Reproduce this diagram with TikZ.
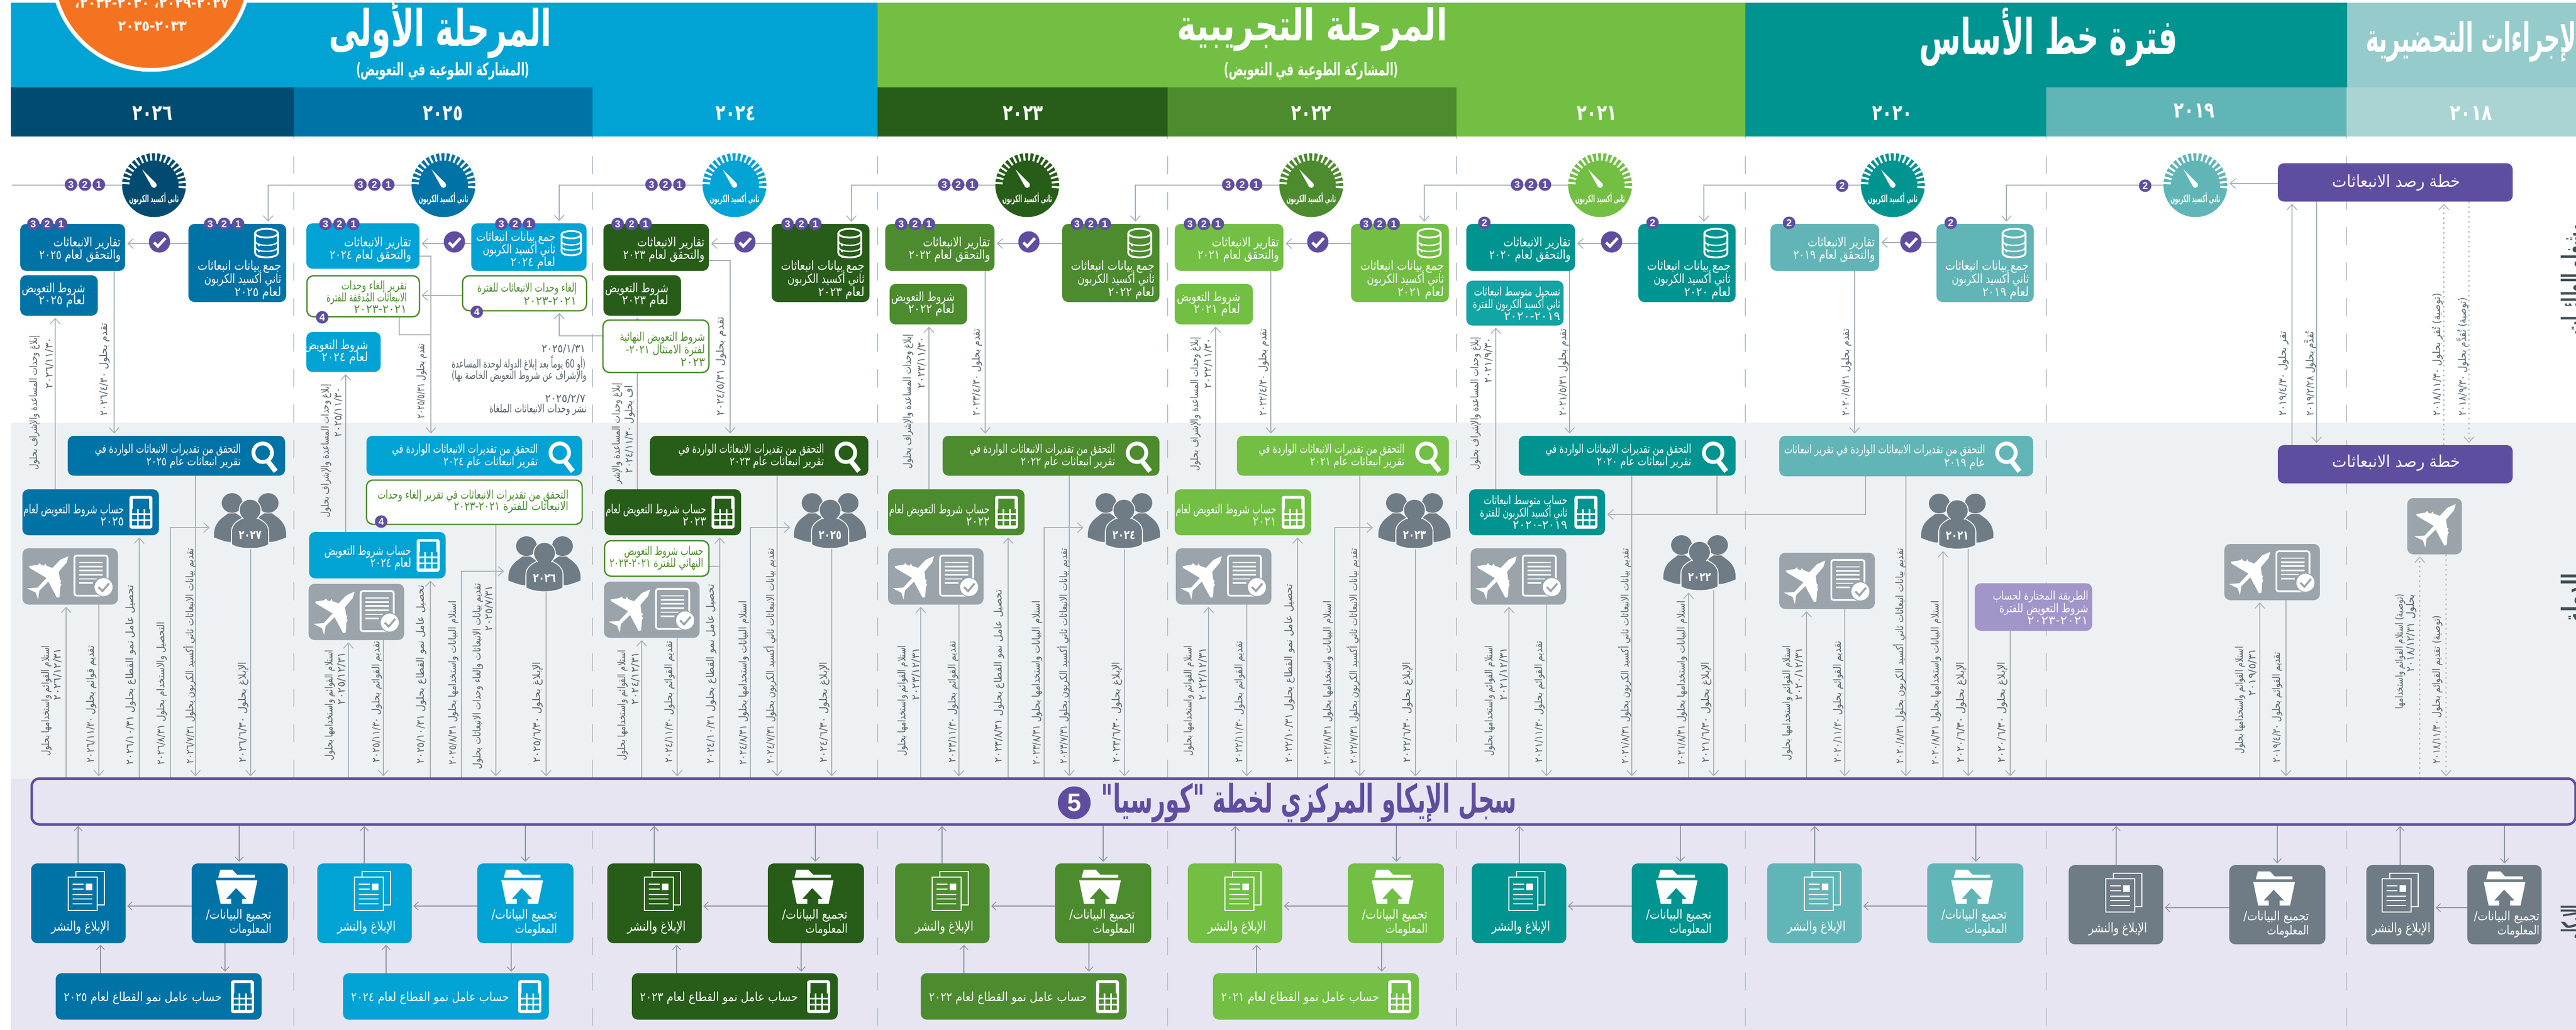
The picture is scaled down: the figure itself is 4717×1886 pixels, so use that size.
\documentclass[tikz,border=0pt]{standalone}
\usepackage{fontspec}
\usepackage{graphicx}
\usetikzlibrary{arrows.meta,calc}
\TeXXeTstate=1
\newfontfamily\arabicfont[Script=Arabic]{DejaVu Sans}
\newfontfamily\latfont{Liberation Sans}
\definecolor{cYa}{HTML}{004B6F}\definecolor{cYb}{HTML}{0073A6}\definecolor{cYc}{HTML}{00A3D3}
\definecolor{cYd}{HTML}{275D18}\definecolor{cYe}{HTML}{4D8B2F}\definecolor{cYf}{HTML}{72BF44}
\definecolor{cYg}{HTML}{009490}\definecolor{cYh}{HTML}{62B5B6}\definecolor{cYi}{HTML}{AAD4D3}
\definecolor{cPrep}{HTML}{96CBCB}\definecolor{cPur}{HTML}{5F4EA0}\definecolor{cLpur}{HTML}{A195C9}
\definecolor{cGray}{HTML}{6F7C85}\definecolor{cAir}{HTML}{9AA4AA}\definecolor{cBand}{HTML}{EEF1F3}
\definecolor{cLav}{HTML}{E7E5F2}\definecolor{cOr}{HTML}{F47321}\definecolor{cTeal}{HTML}{13A4A4}
\definecolor{cLine}{HTML}{A9B3BA}\definecolor{cLineB}{HTML}{8D969D}\definecolor{cLab}{HTML}{56626A}
\definecolor{cDash}{HTML}{BEC5CA}\definecolor{cHead}{HTML}{3F4F55}
\pgfdeclarelayer{basel}\pgfdeclarelayer{connl}\pgfsetlayers{basel,connl,main}
\newsavebox\arbox
\newcount\tnc
\newcommand\nextT{\global\advance\tnc by 1 }
\newcommand\Fl[2]{\sbox\arbox{\arabicfont #2}\resizebox{#1pt}{\ht\arbox}{\usebox\arbox}}
\newcommand\Fb[2]{\sbox\arbox{\arabicfont\bfseries #2}\resizebox{#1pt}{\ht\arbox}{\usebox\arbox}}
\tikzset{
 bx/.style={rectangle,rounded corners=11pt,inner sep=0pt,outer sep=0pt,draw=none},
 obx/.style={rectangle,rounded corners=12pt,inner sep=0pt,outer sep=0pt,draw=cYe,line width=2.5pt,fill=white},
 sq/.style={rectangle,inner sep=0pt,outer sep=0pt,draw=none},
 txt/.style={inner sep=0pt,outer sep=0pt,execute at begin node={\lineskiplimit=-1000pt}},
 conn/.style={draw=cLine,line width=2pt},
 connb/.style={draw=cLineB,line width=1.4pt},
 arr/.style={-{Straight Barb[length=10pt,width=18pt,line width=1.6pt]},shorten >=4pt},
 arrb/.style={-{Straight Barb[length=8pt,width=15pt,line width=1.4pt]},shorten >=3pt},
 dots/.style={dash pattern=on 3pt off 6pt},
 dashln/.style={draw=cDash,line width=1.4pt,dash pattern=on 33pt off 32pt},
 badge/.style={circle,fill=cPur,minimum size=23pt,inner sep=0pt,outer sep=0pt,text=white,font=\fontsize{18}{18}\selectfont\latfont\bfseries},
 chk/.style={circle,fill=cPur,minimum size=39pt,inner sep=0pt,outer sep=0pt}
}
% --- generic builders
\newcommand\mkBox[6]{\node[bx,fill=#6,minimum width={#4-#2},minimum height={#5-#3}] (#1) at ({(#2+#4)/2},{(#3+#5)/2}) {};}
\newcommand\mkSq[6]{\node[sq,fill=#6,minimum width={#4-#2},minimum height={#5-#3}] (#1) at ({(#2+#4)/2},{(#3+#5)/2}) {};}
\newcommand\mkOb[5]{\node[obx,minimum width={#4-#2},minimum height={#5-#3}] (#1) at ({(#2+#4)/2},{(#3+#5)/2}) {};}
\newcommand\tE[6]{\nextT\node[txt,anchor=east,align=right,text=#5,font=\fontsize{\fpeval{1.15*#3}}{#4}\selectfont] (t\the\tnc) at ({#1},{#2}) {#6};}
\newcommand\tC[6]{\nextT\node[txt,anchor=center,align=center,text=#5,font=\fontsize{#3}{#4}\selectfont] (t\the\tnc) at ({#1},{#2}) {#6};}
\newcommand\rL[4]{\nextT\node[txt,rotate=90,text=cLab,font=\fontsize{19}{19}\selectfont] (t\the\tnc) at (#1,{(#2+#3)/2}) {\Fl{\the\numexpr#3-#2\relax}{#4}};}
\newcommand\Bd[3]{\nextT\node[badge] (t\the\tnc) at (#1,#2) {#3};}
\newcommand\Bdt[2]{\Bd{#1}{#2}{3}\Bd{{#1+25.5}}{#2}{2}\Bd{{#1+51}}{#2}{1}}
\newcommand\Chk[2]{\nextT\node[chk] (t\the\tnc) at (#1,#2) {};\draw[white,line width=5pt] ($(t\the\tnc)+(-10,1)$) -- ++(7,7) -- ++(14,-15);}
% --- icons
\newcommand\dbIcon[3]{\begin{scope}[shift={({#1},{#2})},scale=#3]
 \draw[white,line width=3.3pt] (0,-18) ellipse[x radius=21,y radius=8];
 \draw[white,line width=3.3pt] (-21,-18) -- (-21,18) .. controls (-21,29) and (21,29) .. (21,18) -- (21,-18);
 \draw[white,line width=2.4pt] (-21,-4) .. controls (-21,7) and (21,7) .. (21,-4);
 \draw[white,line width=2.4pt] (-21,7) .. controls (-21,18) and (21,18) .. (21,7);
 \fill[white] (-14,4) circle[radius=2] (-14,15) circle[radius=2] (-14,26) circle[radius=1.5];
\end{scope}}
\newcommand\calIcon[3]{\begin{scope}[shift={({#1},{#2})}]
 \fill[white,rounded corners=4pt] (-21,-30) rectangle (21,30);
 \fill[#3] (-15,-25) rectangle (15,-6);
 \foreach \cy in {-2,9,20}{\foreach \cx in {-12,0,12}{\fill[#3] ({\cx-4.5},{\cy-4}) rectangle ({\cx+4.5},{\cy+4});}}
\end{scope}}
\newcommand\magIcon[2]{\begin{scope}[shift={({#1},{#2})}]
 \draw[white,line width=7pt] (0,-6) circle[radius=17];
 \draw[white,line width=9pt] (9,9) -- (24,28);
\end{scope}}
\newcommand\planePath{(285,55)--(240,75)--(197,120)--(163,107)--(158,95)--(150,108)--(135,103)--(128,93)--(118,102)--(68,110)--(72,120)--(165,175)--(115,228)--(58,232)--(105,255)--(118,293)--(125,245)--(175,195)--(222,283)--(236,280)--(240,225)--(247,210)--(240,205)--(245,188)--(238,185)--(232,140)--(275,90)--cycle}
\newcommand\planeAt[2]{\begin{scope}[shift={({#1},{#2})},scale=.3333,shift={(-175,-175)}]\fill[white] \planePath;\end{scope}}
\newcommand\airDoc[2]{\begin{scope}[shift={({#1},{#2})},scale=.3333,shift={(-32,-12)}]
 \fill[white] \planePath;
 \draw[white,line width=3.2pt,rounded corners=4pt] (318,52) rectangle (500,272);
 \foreach \ly in {90,112,133,157}{\draw[white,line width=2.6pt] (345,\ly) -- (472,\ly);}
 \draw[white,line width=2.6pt] (345,180) -- (440,180);
 \draw[white,line width=2.6pt] (345,203) -- (420,203);
 \fill[white,draw=cAir,line width=1.5pt] (478,225) circle[radius=52];
 \draw[cAir,line width=3.6pt] (450,225) -- (472,247) -- (508,205);
\end{scope}}
\newcommand\AirBox[3]{\mkBox{#1}{#2}{#3}{#2+175}{#3+103}{cAir}\airDoc{#2}{#3}}
\newcommand\Gauge[3]{\node[circle,fill=#3,minimum size=117pt,inner sep=0pt,outer sep=0pt] (#1) at (#2,339) {};
 \begin{scope}[shift={(#2,339)}]
 \foreach \ga in {-4,6,...,184}{\draw[white,line width=3.6pt] ({45*cos(\ga)},{-45*sin(\ga)}) -- ({61*cos(\ga)},{-61*sin(\ga)});}
 \fill[white] (-21.7,-28.7) -- (4,-3) -- (-4,3) -- cycle (0,0) circle[radius=5];
 \end{scope}
 \nextT\node[txt,text=white,font=\fontsize{18}{18}\selectfont] (t\the\tnc) at (#2,364) {\Fb{91}{\beginR ثاني أكسيد الكربون\endR}};}
\newcommand\Grp[4]{\node[sq,minimum width=132pt,minimum height=100pt] (#1) at (#2,#3) {};
 \begin{scope}[shift={(#2,#3)}]
 \foreach \gs in {-1,1}{
  \fill[cGray] ({\gs*33},-33) ellipse[x radius=19,y radius=18];
  \fill[cGray] ({\gs*66},30) .. controls ({\gs*68},2) and ({\gs*50},-6) .. ({\gs*40},-14) -- ({\gs*26},-14) .. controls ({\gs*14},-6) .. ({\gs*8},5) -- ({\gs*8},36) .. controls ({\gs*40},40) .. ({\gs*66},30) -- cycle;}
 \fill[cGray,draw=white,line width=1.6pt] (-34,43) -- (-34,20) .. controls (-34,2) and (-18,-2) .. (-10,-8) -- (10,-8) .. controls (18,-2) and (34,2) .. (34,20) -- (34,43) .. controls (20,53) and (-20,53) .. (-34,43) -- cycle;
 \fill[cGray,draw=white,line width=1.6pt] (0,-20) ellipse[x radius=20,y radius=20];
 \fill[cGray] (-12,-8) rectangle (12,4);
 \end{scope}
 \tC{#2}{#3+26}{23}{23}{white}{\Fb{42}{\beginR #4\endR}}}
% --- standard boxes
\newcommand\DataT[5]{\mkBox{#1}{#2}{410}{#3}{553}{#4}\dbIcon{#3-36}{445}{1}
 \tE{#3-9}{513}{20}{24}{white}{\Fl{153}{\beginR جمع بيانات انبعاثات\endR}\\\Fl{141}{\beginR ثاني أكسيد الكربون\endR}\\\Fl{85}{\beginR لعام #5\endR}}}
\newcommand\RepT[5]{\mkBox{#1}{#2}{410}{#3}{496}{#4}
 \tE{#3-8}{457}{20}{23}{white}{\Fl{123}{\beginR تقارير الانبعاثات\endR}\\\Fl{149}{\beginR والتحقق لعام #5\endR}}}
\newcommand\OffT[7]{\mkBox{#1}{#2}{#4}{#3}{#5}{#6}
 \tE{#3-23}{(#4+#5)/2}{20}{22}{white}{\Fl{116}{\beginR شروط التعويض\endR}\\\Fl{85}{\beginR لعام #7\endR}}}
\newcommand\VerT[5]{\mkBox{#1}{#2}{798}{#3}{871}{#4}\magIcon{#3-41}{835}
 \tE{#3-81}{835}{19}{23}{white}{\Fl{267}{\beginR التحقق من تقديرات الانبعاثات الواردة في\endR}\\\Fl{173}{\beginR تقرير انبعاثات عام #5\endR}}}
\newcommand\CalT[5]{\mkBox{#1}{#2}{896}{#3}{980}{#4}\calIcon{#3-33}{938}{#4}
 \tE{#3-64}{943}{20}{22}{white}{\Fl{184}{\beginR حساب شروط التعويض لعام\endR}\\\Fl{43}{\beginR #5\endR}}}
% --- bottom row
\newcommand\RepB[8]{% name x1 x2 y1 y2 col iconcx textcx
 \mkBox{#1}{#2}{#4}{#3}{#5}{#6}
 \begin{scope}[shift={({#7},#4)},scale=.3333]
  \draw[white,line width=2pt] (-56,45) rectangle (99,228);
  \fill[#6,draw=white,line width=2pt] (-98,75) rectangle (59,258);
  \foreach \ly in {115,140}{\draw[white,line width=2pt] (-76,\ly) -- (-16,\ly);}
  \fill[white] (-4,110) rectangle (34,148);
  \foreach \ly in {170,195,222}{\draw[white,line width=2pt] (-76,\ly) -- (34,\ly);}
 \end{scope}
 \tC{#8}{#4+117}{24}{24}{white}{\Fl{107}{\beginR الإبلاغ والنشر\endR}}}
\newcommand\DatB[8]{% name x1 x2 y1 y2 col iconcx textright
 \mkBox{#1}{#2}{#4}{#3}{#5}{#6}
 \begin{scope}[shift={({#7},#4)},scale=.3333]
  \fill[white] (-89,35) -- (-22,35) -- (3,62) -- (101,62) -- (101,78) -- (-100,78) -- cycle;
  \fill[white] (-114,93) -- (115,93) -- (88,222) -- (31,222) -- (31,195) -- (56,195) -- (-2,135) -- (-57,195) -- (-29,195) -- (-29,222) -- (-87,222) -- cycle;
 \end{scope}
 \tE{#8}{#4+109}{20}{26}{white}{\Fl{120}{\beginR تجميع البيانات/\endR}\\\Fl{77}{\beginR المعلومات\endR}}}
\newcommand\CalB[5]{\mkBox{#1}{#2}{1782}{#2+377}{1867}{#3}\calIcon{#2+342}{1825}{#3}
 \tE{#2+304}{1828}{20}{20}{white}{\Fl{289}{\beginR حساب عامل نمو القطاع لعام #4\endR}}}
% --- connectors
\newcommand\vA[3]{\begin{pgfonlayer}{connl}\draw[conn,arr] (#1,0 |- #2) -- (#1,0 |- #3);\end{pgfonlayer}}
\newcommand\vD[3]{\begin{pgfonlayer}{connl}\draw[conn,arr,dots,line width=1.5pt] (#1,0 |- #2) -- (#1,0 |- #3);\end{pgfonlayer}}
\newcommand\vBb[3]{\begin{pgfonlayer}{connl}\draw[connb,arrb] (#1,0 |- #2) -- (#1,0 |- #3);\end{pgfonlayer}}
\newcommand\hB[3]{\begin{pgfonlayer}{connl}\draw[connb,arrb,line width=2.4pt] (#2 |- 0,#1) -- (#3 |- 0,#1);\end{pgfonlayer}}
\newcommand\hA[3]{\begin{pgfonlayer}{connl}\draw[conn,arr] (#2 |- 0,#1) -- (#3 |- 0,#1);\end{pgfonlayer}}
\newcommand\eA[4]{\nextT\coordinate (e\the\tnc) at (#3,#4);\begin{pgfonlayer}{connl}\draw[conn,arr] (#1,0 |- #2) |- (e\the\tnc);\end{pgfonlayer}}
\newcommand\gA[3]{\begin{pgfonlayer}{connl}\draw[conn,arr] (#1.west) -| (#2,0 |- #3.north);\end{pgfonlayer}}
\begin{document}
\begin{tikzpicture}[x=1pt,y=-1pt]
\useasboundingbox (0,0) rectangle (4717,1886);
\begin{pgfonlayer}{basel}
\fill[white] (0,0) rectangle (4717,1886);
\fill[cBand] (20,774) rectangle (4717,1426);
\fill[cLav] (20,1426) rectangle (4717,1886);
\foreach \dx in {538,1085,1607,2138,2667,3196,3747,4297}{\draw[dashln] (\dx,221) -- (\dx,1883);}
\mkSq{phB}{20}{5}{1607}{160}{cYc}
\mkSq{phP}{1607}{5}{3196}{160}{cYf}
\mkSq{phL}{3196}{5}{4298}{160}{cYg}
\mkSq{phE}{4298}{5}{4717}{160}{cPrep}
\mkSq{ya}{20}{160}{538}{250}{cYa}
\mkSq{yb}{538}{160}{1085}{250}{cYb}
\mkSq{yc}{1085}{160}{1607}{250}{cYc}
\mkSq{yd}{1607}{160}{2138}{250}{cYd}
\mkSq{ye}{2138}{160}{2667}{250}{cYe}
\mkSq{yf}{2667}{160}{3196}{250}{cYf}
\mkSq{yg}{3196}{160}{3747}{250}{cYg}
\mkSq{yh}{3747}{160}{4297}{250}{cYh}
\mkSq{yi}{4297}{160}{4717}{250}{cYi}
\node[circle,fill=cOr,draw=white,line width=7pt,minimum size=362pt,inner sep=0pt] (orange) at (277,-53) {};
\end{pgfonlayer}
% header text
\tC{278}{6}{26}{26}{white}{\Fb{282}{\beginR ٢٠٢٧-٢٠٢٩، ٢٠٣٠-٢٠٣٢،\endR}}
\tC{279}{48}{26}{26}{white}{\Fb{126}{\beginR ٢٠٣٣-٢٠٣٥\endR}}
\tC{806}{52}{92}{92}{white}{\Fb{408}{\beginR المرحلة الأولى\endR}}
\tC{811}{130}{32}{32}{white}{\Fb{318}{\beginR (المشاركة الطوعية في التعويض)\endR}}
\tC{2403}{54}{80}{80}{white}{\Fb{495}{\beginR المرحلة التجريبية\endR}}
\tC{2401}{130}{32}{32}{white}{\Fb{320}{\beginR (المشاركة الطوعية في التعويض)\endR}}
\tC{3751}{68}{90}{90}{white}{\Fb{474}{\beginR فترة خط الأساس\endR}}
\tC{4532}{76}{74}{74}{white}{\Fb{400}{\beginR الإجراءات التحضيرية\endR}}
\tC{279}{208}{40}{40}{white}{\Fb{74}{\beginR ٢٠٢٦\endR}}
\tC{811}{208}{40}{40}{white}{\Fb{74}{\beginR ٢٠٢٥\endR}}
\tC{1347}{208}{40}{40}{white}{\Fb{74}{\beginR ٢٠٢٤\endR}}
\tC{1873}{208}{40}{40}{white}{\Fb{74}{\beginR ٢٠٢٣\endR}}
\tC{2401}{208}{40}{40}{white}{\Fb{74}{\beginR ٢٠٢٢\endR}}
\tC{2924}{208}{40}{40}{white}{\Fb{74}{\beginR ٢٠٢١\endR}}
\tC{3465}{208}{40}{40}{white}{\Fb{74}{\beginR ٢٠٢٠\endR}}
\tC{4018}{203}{40}{40}{white}{\Fb{75}{\beginR ٢٠١٩\endR}}
\tC{4525}{208}{40}{40}{white}{\Fb{77}{\beginR ٢٠١٨\endR}}
% side labels
\nextT\node[txt,rotate=90,anchor=center,text=cHead,font=\fontsize{58}{58}\selectfont] (t\the\tnc) at (4718,511) {\Fb{205}{\beginR مشغلو الطائرات\endR}};
\nextT\node[txt,rotate=90,anchor=center,text=cHead,font=\fontsize{58}{58}\selectfont] (t\the\tnc) at (4718,1095) {\Fb{91}{\beginR الدولة\endR}};
\nextT\node[txt,rotate=90,anchor=center,text=cHead,font=\fontsize{58}{58}\selectfont] (t\the\tnc) at (4718,1689) {\Fb{64}{\beginR الإيكاو\endR}};
% registry
\node[rectangle,rounded corners=14pt,draw=cPur,line width=4.5pt,fill=cLav,minimum width=4658pt,minimum height=84pt,inner sep=0pt,outer sep=0pt] (reg) at (2387,1467.5) {};
\tC{2397}{1470}{72}{72}{cPur}{\Fb{761}{\beginR سجل الإيكاو المركزي لخطة "كورسيا"\endR}}
\nextT\node[circle,fill=cPur,minimum size=60pt,inner sep=0pt,text=white,font=\fontsize{46}{46}\selectfont\latfont\bfseries] (t\the\tnc) at (1967,1470) {5};
% gauges
\Gauge{ga}{282}{cYa}\Gauge{gb}{812}{cYb}\Gauge{gc}{1345}{cYc}\Gauge{gd}{1881}{cYd}
\Gauge{ge}{2401}{cYe}\Gauge{gf}{2930}{cYf}\Gauge{gg}{3466}{cYg}\Gauge{gh}{4020}{cYh}
%==== column 2026
\DataT{da}{345}{524}{cYb}{٢٠٢٥}
\RepT{ra}{37}{229}{cYb}{٢٠٢٥}
\OffT{oa}{37}{179}{504}{578}{cYb}{٢٠٢٥}
\VerT{va}{124}{522}{cYb}{٢٠٢٥}
\CalT{ca}{41}{291}{cYb}{٢٠٢٥}
\AirBox{aa}{41}{1004}
\Grp{pa}{458}{954}{٢٠٢٧}
%==== column 2025
\mkBox{db}{863}{409}{1074}{496}{cYc}\dbIcon{1046}{445}{.85}
\tE{1017}{459}{20}{23}{white}{\Fl{145}{\beginR جمع بيانات انبعاثات\endR}\\\Fl{133}{\beginR ثاني أكسيد الكربون\endR}\\\Fl{82}{\beginR لعام ٢٠٢٤\endR}}
\mkBox{rb}{561}{409}{768}{492}{cYc}
\tE{753}{457}{20}{23}{white}{\Fl{123}{\beginR تقارير الانبعاثات\endR}\\\Fl{149}{\beginR والتحقق لعام ٢٠٢٤\endR}}
\mkOb{xb}{847}{505}{1074}{569}
\tE{1056}{538}{19}{24}{cYe}{\Fl{182}{\beginR إلغاء وحدات الانبعاثات للفترة\endR}\\\Fl{97}{\beginR ٢٠٢١-٢٠٢٣\endR}}
\mkOb{yb1}{562}{505}{768}{580}
\tE{745}{544}{19}{21.5}{cYe}{\Fl{120}{\beginR تقرير إلغاء وحدات\endR}\\\Fl{147}{\beginR الانبعاثات المُدققة للفترة\endR}\\\Fl{97}{\beginR ٢٠٢١-٢٠٢٣\endR}}
\OffT{ob}{561}{697}{608}{681}{cYc}{٢٠٢٤}
\tE{1072}{639}{18}{18}{cLab}{\Fl{80}{\beginR ٢٠٢٥/١/٣١\endR}}
\tE{1072}{665}{18}{18}{cLab}{\Fl{245}{\beginR (أو 60 يوماً بعد إبلاغ الدولة لوحدة المساعدة\endR}}
\tE{1074}{689}{18}{18}{cLab}{\Fl{247}{\beginR والإشراف عن شروط التعويض الخاصة بها)\endR}}
\tE{1072}{730}{18}{18}{cLab}{\Fl{74}{\beginR ٢٠٢٥/٢/٧\endR}}
\tE{1074}{750}{18}{18}{cLab}{\Fl{178}{\beginR نشر وحدات الانبعاثات الملغاة\endR}}
\VerT{vb}{671}{1066}{cYc}{٢٠٢٤}
\mkOb{zb}{671}{879}{1066}{960}
\tE{1041}{918}{19}{21}{cYe}{\Fl{350}{\beginR التحقق من تقديرات الانبعاثات في تقرير إلغاء وحدات\endR}\\\Fl{210}{\beginR الانبعاثات للفترة ٢٠٢١-٢٠٢٣\endR}}
\mkBox{cb}{566}{974}{816}{1059}{cYc}\calIcon{784}{1017}{cYc}
\tE{753}{1022}{20}{22}{white}{\Fl{159}{\beginR حساب شروط التعويض\endR}\\\Fl{75}{\beginR لعام ٢٠٢٤\endR}}
\AirBox{ab}{565}{1069}
\Grp{pb}{997}{1033}{٢٠٢٦}
%==== column 2024
\DataT{dc}{1413}{1592}{cYd}{٢٠٢٣}
\RepT{rc}{1105}{1298}{cYd}{٢٠٢٣}
\OffT{oc}{1105}{1247}{504}{578}{cYd}{٢٠٢٣}
\mkOb{fc}{1104}{586}{1298}{682}
\tE{1291}{639}{19}{23}{cYe}{\Fl{156}{\beginR شروط التعويض النهائية\endR}\\\Fl{145}{\beginR لفترة الامتثال ٢٠٢١-\endR}\\\Fl{45}{\beginR ٢٠٢٣\endR}}
\VerT{vc}{1190}{1590}{cYd}{٢٠٢٣}
\CalT{cc}{1107}{1357}{cYd}{٢٠٢٣}
\mkOb{wc}{1107}{990}{1298}{1055}
\tE{1288}{1022}{19}{22}{cYe}{\Fl{145}{\beginR حساب شروط التعويض\endR}\\\Fl{172}{\beginR النهائي للفترة ٢٠٢١-٢٠٢٣\endR}}
\AirBox{ac}{1106}{1065}
\Grp{pc}{1520}{954}{٢٠٢٥}
%==== column 2023
\DataT{dd}{1945}{2123}{cYe}{٢٠٢٢}
\RepT{rd}{1621}{1821}{cYe}{٢٠٢٢}
\OffT{od}{1629}{1771}{520}{594}{cYe}{٢٠٢٢}
\VerT{vd}{1726}{2123}{cYe}{٢٠٢٢}
\CalT{cd}{1626}{1876}{cYe}{٢٠٢٢}
\AirBox{ad}{1626}{1004}
\Grp{pd}{2058}{954}{٢٠٢٤}
%==== column 2022
\DataT{de}{2474}{2653}{cYf}{٢٠٢١}
\RepT{re}{2151}{2350}{cYf}{٢٠٢١}
\OffT{oe}{2151}{2294}{520}{594}{cYf}{٢٠٢١}
\VerT{ve}{2265}{2653}{cYf}{٢٠٢١}
\CalT{ce}{2151}{2401}{cYf}{٢٠٢١}
\AirBox{ae}{2153}{1004}
\Grp{pe}{2590}{954}{٢٠٢٣}
%==== column 2021
\DataT{df}{3000}{3178}{cYg}{٢٠٢٠}
\RepT{rf}{2685}{2884}{cYg}{٢٠٢٠}
\mkBox{bf}{2685}{514}{2863}{596}{cTeal}
\tE{2857}{556}{19}{22.5}{white}{\Fl{158}{\beginR تسجيل متوسط انبعاثات\endR}\\\Fl{160}{\beginR ثاني أكسيد الكربون للفترة\endR}\\\Fl{103}{\beginR ٢٠١٩-٢٠٢٠\endR}}
\VerT{vf}{2781}{3178}{cYg}{٢٠٢٠}
\mkBox{cf}{2690}{896}{2939}{980}{cYg}\calIcon{2904}{938}{cYg}
\tE{2870}{938}{19}{22.5}{white}{\Fl{153}{\beginR حساب متوسط انبعاثات\endR}\\\Fl{160}{\beginR ثاني أكسيد الكربون للفترة\endR}\\\Fl{100}{\beginR ٢٠١٩-٢٠٢٠\endR}}
\AirBox{af}{2693}{1004}
\Grp{pf}{3112}{1031}{٢٠٢٢}
%==== column 2020
\DataT{dg}{3546}{3724}{cYh}{٢٠١٩}
\RepT{rg}{3242}{3441}{cYh}{٢٠١٩}
\mkBox{vg}{3258}{798}{3723}{872}{cYh}\magIcon{3674}{835}
\tE{3635}{837}{19}{24}{white}{\Fl{368}{\beginR التحقق من تقديرات الانبعاثات الواردة في تقرير انبعاثات\endR}\\\Fl{75}{\beginR عام ٢٠١٩\endR}}
\AirBox{ag}{3258}{1012}
\Grp{pg}{3584}{955}{٢٠٢١}
\mkBox{mg}{3616}{1068}{3831}{1155}{cLpur}
\tE{3824}{1113}{19}{22.5}{white}{\Fl{175}{\beginR الطريقة المختارة لحساب\endR}\\\Fl{163}{\beginR شروط التعويض للفترة\endR}\\\Fl{112}{\beginR ٢٠٢١-٢٠٢٣\endR}}
%==== 2019/2018
\mkBox{epa}{4171}{299}{4601}{369}{cPur}
\tC{4388}{335}{30}{30}{white}{\Fl{235}{\beginR خطة رصد الانبعاثات\endR}}
\mkBox{epb}{4171}{815}{4601}{885}{cPur}
\tC{4388}{848}{30}{30}{white}{\Fl{235}{\beginR خطة رصد الانبعاثات\endR}}
\mkBox{ah}{4408}{912}{4508}{1015}{cAir}\planeAt{4460}{963}
\AirBox{ai}{4073}{996}
%==== badges
\Bdt{130}{338}\Bdt{660}{338}\Bdt{1193}{338}\Bdt{1729}{338}\Bdt{2249}{338}\Bdt{2778}{338}
\Bd{3373}{340}{2}\Bd{3928}{340}{2}
\Bdt{385}{410}\Bdt{918}{410}\Bdt{1442}{410}\Bdt{1972}{410}\Bdt{2501}{410}
\Bdt{61}{410}\Bdt{596}{410}\Bdt{1131}{410}\Bdt{1650}{410}\Bdt{2179}{410}
\Bd{3026}{408}{2}\Bd{3572}{408}{2}\Bd{2718}{408}{2}\Bd{3276}{408}{2}
\Bd{873}{571}{4}\Bd{590}{581}{4}\Bd{698}{955}{4}
\Chk{292}{443}\Chk{832}{443}\Chk{1364}{443}\Chk{1884}{443}\Chk{2413}{443}\Chk{2951}{443}\Chk{3499}{443}
%==== connectors top
\hA{446}{da.west}{ra.east}\hA{446}{db.west}{rb.east}\hA{446}{dc.west}{rc.east}\hA{446}{dd.west}{rd.east}
\hA{446}{de.west}{re.east}\hA{446}{df.west}{rf.east}\hA{444}{dg.west}{rg.east}
\hA{541}{xb.west}{yb1.east}
\gA{gb}{491}{da}\gA{gc}{1024}{db}\gA{gd}{1559}{dc}\gA{ge}{2079}{dd}\gA{gf}{2608}{de}\gA{gg}{3120}{df}\gA{gh}{3674}{dg}
\begin{pgfonlayer}{connl}
\coordinate (ga0) at (22,339);
\draw[conn] (ga.west) -- (ga0);
\draw[conn,arr] (epa.west |- 0,336) -- (gh.east |- 0,336);
\draw[conn,arr] (rb.east |- 0,469) -| (789,0 |- vb.north);
\draw[conn] (yb1.south -| 731,0) |- (789,613);
\draw[conn,arr] (fc.west |- 0,615) -| (1024,0 |- xb.south);
\draw[conn,arr] (rc.east |- 0,477) -| (1337,0 |- vc.north);
\draw[conn] (wc.east |- 0,1037) -- (1318,1037);
\end{pgfonlayer}
\vA{101}{ca.north}{oa.south}\vA{209}{ra.south}{va.north}
\vA{121}{reg.north}{aa.south}\vA{181}{aa.south}{reg.north}\vA{255}{reg.north}{ca.south}\vA{358}{va.south}{reg.north}
\eA{312}{reg.north}{388}{966}\vA{459}{pa.south}{reg.north}
\vA{633}{cb.north}{ob.south}
\vA{638}{reg.north}{ab.south}\vA{702}{ab.south}{reg.north}\vA{788}{reg.north}{cb.south}
\eA{845}{reg.north}{927}{1046}\vA{908}{zb.south}{reg.north}\vA{1000}{pb.south}{reg.north}
\vA{1167}{cc.north}{oc.south}
\vA{1175}{reg.north}{ac.south}\vA{1240}{ac.south}{reg.north}\vA{1318}{reg.north}{cc.south}
\eA{1374}{reg.north}{1451}{966}\vA{1423}{vc.south}{reg.north}\vA{1523}{pc.south}{reg.north}
\vA{1701}{cd.north}{od.south}\vA{1804}{rd.south}{vd.north}
\vA{1686}{reg.north}{ad.south}\vA{1756}{ad.south}{reg.north}\vA{1846}{reg.north}{cd.south}
\eA{1912}{reg.north}{1988}{966}\vA{1958}{vd.south}{reg.north}\vA{2059}{pd.south}{reg.north}
\vA{2226}{ce.north}{oe.south}\vA{2327}{re.south}{ve.north}
\vA{2213}{reg.north}{ae.south}\vA{2283}{ae.south}{reg.north}\vA{2376}{reg.north}{ce.south}
\eA{2444}{reg.north}{2518}{966}\vA{2490}{ve.south}{reg.north}\vA{2592}{pe.south}{reg.north}
\vA{2739}{cf.north}{bf.south}\vA{2874}{rf.south}{vf.north}
\vA{2763}{reg.north}{af.south}\vA{2832}{af.south}{reg.north}
\vA{2988}{vf.south}{reg.north}\vA{3092}{reg.north}{pf.south}\vA{3138}{pf.south}{reg.north}
\begin{pgfonlayer}{connl}
\draw[conn,arr] (3416,0 |- vg.south) |- (cf.east |- 0,942);
\draw[conn] (3144,0 |- vf.south) -- (3144,942);
\end{pgfonlayer}
\vA{3396}{rg.south}{vg.north}
\vA{3490}{vg.south}{reg.north}
\vA{3558}{reg.north}{pg.south}\vA{3604}{pg.south}{reg.north}
\vA{3308}{reg.north}{ag.south}\vA{3378}{ag.south}{reg.north}\vA{3681}{mg.south}{reg.north}
\vA{4197}{epb.north}{epa.south}\vA{4242}{epa.south}{epb.north}
\vD{4475}{epb.north}{epa.south}\vD{4521}{epa.south}{epb.north}
\vD{4431}{reg.north}{ah.south}\vD{4479}{ah.south}{reg.north}
\vA{4138}{reg.north}{ai.south}\vA{4186}{ai.south}{reg.north}
%==== rotated labels
\rL{63}{614}{860}{\beginR إبلاغ وحدات المساعدة والإشراف بحلول\endR}\rL{90}{619}{711}{\beginR ٢٠٢٦/١١/٣٠\endR}
\rL{192}{592}{761}{\beginR تقدم بحلول ٢٠٢٦/٤/٣٠\endR}
\rL{240}{1072}{1400}{\beginR تحصيل عامل نمو القطاع بحلول ٢٠٢٦/١٠/٣١\endR}
\rL{296}{1139}{1400}{\beginR التحصيل والاستخدام بحلول ٢٠٢٦/٨/٣١\endR}
\rL{347}{1004}{1398}{\beginR تقديم بيانات الانبعاثات ثاني أكسيد الكربون بحلول ٢٠٢٦/٧/٣١\endR}
\rL{446}{1212}{1396}{\beginR الإبلاغ بحلول ٢٠٢٦/٦/٣٠\endR}
\rL{85}{1182}{1384}{\beginR استلام القوائم واستخدامها بحلول\endR}\rL{105}{1187}{1282}{\beginR ٢٠٢٦/١٢/٣١\endR}
\rL{167}{1182}{1396}{\beginR تقديم قوائم بحلول ٢٠٢٦/١١/٣٠\endR}
% 2025
\rL{597}{703}{947}{\beginR إبلاغ وحدات المساعدة والإشراف بحلول\endR}\rL{619}{710}{800}{\beginR ٢٠٢٥/١١/٣٠\endR}
\rL{772}{629}{766}{\beginR تقدم بحلول ٢٠٢٥/٥/٣١\endR}
\rL{604}{1190}{1392}{\beginR استلام القوائم واستخدامها بحلول\endR}\rL{625}{1194}{1290}{\beginR ٢٠٢٥/١٢/٣١\endR}
\rL{690}{1174}{1396}{\beginR تقديم القوائم بحلول ٢٠٢٥/١١/٣٠\endR}
\rL{772}{1072}{1398}{\beginR تحصيل عامل نمو القطاع بحلول ٢٠٢٥/١٠/٣١\endR}
\rL{830}{1100}{1400}{\beginR استلام البيانات واستخدامها بحلول ٢٠٢٥/٨/٣١\endR}
\rL{875}{1068}{1408}{\beginR تقديم بيانات الانبعاثات وإلغاء وحدات الانبعاثات بحلول\endR}\rL{895}{1072}{1155}{\beginR ٢٠٢٥/٧/٣١\endR}
\rL{985}{1212}{1396}{\beginR الإبلاغ بحلول ٢٠٢٥/٦/٣٠\endR}
% 2024
\rL{1130}{701}{886}{\beginR إبلاغ وحدات المساعدة والإشر\endR}\rL{1153}{706}{866}{\beginR اف بحلول ٢٠٢٤/١١/٣٠\endR}
\rL{1321}{580}{761}{\beginR تقدم بحلول ٢٠٢٤/٥/٣١\endR}
\rL{1140}{1190}{1392}{\beginR استلام القوائم واستخدامها بحلول\endR}\rL{1163}{1194}{1290}{\beginR ٢٠٢٤/١٢/٣١\endR}
\rL{1226}{1174}{1396}{\beginR تقديم القوائم بحلول ٢٠٢٤/١١/٣٠\endR}
\rL{1303}{1070}{1398}{\beginR تحصيل عامل نمو القطاع بحلول ٢٠٢٤/١٠/٣١\endR}
\rL{1362}{1100}{1400}{\beginR استلام البيانات واستخدامها بحلول ٢٠٢٤/٨/٣١\endR}
\rL{1410}{1004}{1398}{\beginR تقديم بيانات الانبعاثات ثاني أكسيد الكربون بحلول ٢٠٢٤/٧/٣١\endR}
\rL{1510}{1212}{1396}{\beginR الإبلاغ بحلول ٢٠٢٤/٦/٣٠\endR}
% 2023
\rL{1663}{612}{858}{\beginR إبلاغ وحدات المساعدة والإشراف بحلول\endR}\rL{1687}{617}{711}{\beginR ٢٠٢٣/١١/٣٠\endR}
\rL{1789}{602}{761}{\beginR تقدم بحلول ٢٠٢٣/٤/٣٠\endR}
\rL{1653}{1182}{1384}{\beginR استلام القوائم واستخدامها بحلول\endR}\rL{1677}{1186}{1282}{\beginR ٢٠٢٣/١٢/٣١\endR}
\rL{1745}{1174}{1396}{\beginR تقديم القوائم بحلول ٢٠٢٣/١١/٣٠\endR}
\rL{1830}{1080}{1396}{\beginR تحصيل عامل نمو القطاع بحلول ٢٠٢٣/٨/٣١\endR}
\rL{1899}{1100}{1400}{\beginR استلام البيانات واستخدامها بحلول ٢٠٢٣/٨/٣١\endR}
\rL{1947}{1004}{1398}{\beginR تقديم بيانات الانبعاثات ثاني أكسيد الكربون بحلول ٢٠٢٣/٧/٣١\endR}
\rL{2046}{1212}{1396}{\beginR الإبلاغ بحلول ٢٠٢٣/٦/٣٠\endR}
% 2022
\rL{2189}{617}{862}{\beginR إبلاغ وحدات المساعدة والإشراف بحلول\endR}\rL{2212}{620}{711}{\beginR ٢٠٢٢/١١/٣٠\endR}
\rL{2314}{602}{761}{\beginR تقدم بحلول ٢٠٢٢/٤/٣٠\endR}
\rL{2177}{1182}{1384}{\beginR استلام القوائم واستخدامها بحلول\endR}\rL{2202}{1186}{1282}{\beginR ٢٠٢٢/١٢/٣١\endR}
\rL{2270}{1174}{1396}{\beginR تقديم القوائم بحلول ٢٠٢٢/١١/٣٠\endR}
\rL{2362}{1070}{1396}{\beginR تحصيل عامل نمو القطاع بحلول ٢٠٢٢/١٠/٣١\endR}
\rL{2432}{1100}{1400}{\beginR استلام البيانات واستخدامها بحلول ٢٠٢٢/٨/٣١\endR}
\rL{2478}{1004}{1398}{\beginR تقديم بيانات الانبعاثات ثاني أكسيد الكربون بحلول ٢٠٢٢/٧/٣١\endR}
\rL{2578}{1212}{1396}{\beginR الإبلاغ بحلول ٢٠٢٢/٦/٣٠\endR}
% 2021
\rL{2702}{617}{860}{\beginR إبلاغ وحدات المساعدة والإشراف بحلول\endR}\rL{2725}{619}{701}{\beginR ٢٠٢١/٩/٣٠\endR}
\rL{2863}{602}{761}{\beginR تقدم بحلول ٢٠٢١/٥/٣١\endR}
\rL{2728}{1182}{1384}{\beginR استلام القوائم واستخدامها بحلول\endR}\rL{2753}{1186}{1282}{\beginR ٢٠٢١/١٢/٣١\endR}
\rL{2819}{1174}{1396}{\beginR تقديم القوائم بحلول ٢٠٢١/١١/٣٠\endR}
\rL{2975}{1004}{1398}{\beginR تقديم بيانات الانبعاثات ثاني أكسيد الكربون بحلول ٢٠٢١/٨/٣١\endR}
\rL{3080}{1100}{1400}{\beginR استلام البيانات واستخدامها بحلول ٢٠٢١/٨/٣١\endR}
\rL{3125}{1212}{1396}{\beginR الإبلاغ بحلول ٢٠٢١/٦/٣٠\endR}
% 2020
\rL{3381}{602}{761}{\beginR تقدم بحلول ٢٠٢٠/٥/٣١\endR}
\rL{3273}{1182}{1392}{\beginR استلام القوائم واستخدامها بحلول\endR}\rL{3294}{1186}{1282}{\beginR ٢٠٢٠/١٢/٣١\endR}
\rL{3366}{1174}{1396}{\beginR تقديم القوائم بحلول ٢٠٢٠/١١/٣٠\endR}
\rL{3478}{1004}{1398}{\beginR تقديم بيانات انبعاثات ثاني أكسيد الكربون بحلول ٢٠٢٠/٨/٣١\endR}
\rL{3545}{1100}{1400}{\beginR استلام البيانات واستخدامها بحلول ٢٠٢٠/٨/٣١\endR}
\rL{3592}{1212}{1396}{\beginR الإبلاغ بحلول ٢٠٢٠/٦/٣٠\endR}
\rL{3667}{1212}{1396}{\beginR الإبلاغ بحلول ٢٠٢٠/٦/٣٠\endR}
% 2019/18
\rL{4182}{607}{761}{\beginR تقر بحلول ٢٠١٩/٤/٣٠\endR}
\rL{4230}{607}{761}{\beginR تُقدَّم بحلول ٢٠١٩/٢/٢٨\endR}
\rL{4463}{537}{761}{\beginR (توصية) تُقر بحلول ٢٠١٨/١١/٣٠\endR}
\rL{4509}{545}{761}{\beginR (توصية) تُقدَّم بحلول ٢٠١٨/٩/٣٠\endR}
\rL{4395}{1088}{1298}{\beginR (توصية) استلام القوائم واستخدامها\endR}
\rL{4416}{1088}{1230}{\beginR بحلول ٢٠١٨/١٢/٣١\endR}
\rL{4463}{1127}{1398}{\beginR (توصية) تقديم القوائم بحلول ٢٠١٨/١١/٣٠\endR}
\rL{4102}{1184}{1380}{\beginR استلام القوائم واستخدامها بحلول\endR}\rL{4124}{1188}{1274}{\beginR ٢٠١٩/٥/٣١\endR}
\rL{4170}{1194}{1396}{\beginR تقديم القوائم بحلول ٢٠١٩/٤/٣٠\endR}
%==== bottom row
\DatB{bda}{351}{527}{1581}{1727}{cYb}{433}{497}\RepB{bra}{57}{230}{1581}{1727}{cYb}{158}{147}
\DatB{bdb}{874}{1050}{1581}{1727}{cYc}{956}{1020}\RepB{brb}{581}{754}{1581}{1727}{cYc}{682}{671}
\DatB{bdc}{1406}{1582}{1581}{1727}{cYd}{1488}{1552}\RepB{brc}{1112}{1285}{1581}{1727}{cYd}{1213}{1202}
\DatB{bdd}{1932}{2108}{1581}{1727}{cYe}{2014}{2078}\RepB{brd}{1639}{1812}{1581}{1727}{cYe}{1740}{1729}
\DatB{bde}{2468}{2644}{1581}{1727}{cYf}{2550}{2614}\RepB{bre}{2175}{2348}{1581}{1727}{cYf}{2276}{2265}
\DatB{bdf}{2988}{3164}{1581}{1727}{cYg}{3070}{3134}\RepB{brf}{2695}{2868}{1581}{1727}{cYg}{2796}{2785}
\DatB{bdg}{3529}{3705}{1581}{1727}{cYh}{3611}{3675}\RepB{brg}{3236}{3409}{1581}{1727}{cYh}{3337}{3326}
\DatB{bdh}{4082}{4258}{1584}{1729}{cGray}{4164}{4228}\RepB{brh}{3788}{3961}{1584}{1729}{cGray}{3889}{3878}
\DatB{bdi}{4518}{4654}{1584}{1729}{cGray}{4586}{4650}\RepB{bri}{4333}{4457}{1584}{1729}{cGray}{4395}{4397}
\CalB{bca}{102}{cYb}{٢٠٢٥}{}\CalB{bcb}{628}{cYc}{٢٠٢٤}{}\CalB{bcc}{1157}{cYd}{٢٠٢٣}{}
\CalB{bcd}{1686}{cYe}{٢٠٢٢}{}\CalB{bce}{2221}{cYf}{٢٠٢١}{}
\hB{1659}{bda.west}{bra.east}\hB{1659}{bdb.west}{brb.east}\hB{1659}{bdc.west}{brc.east}\hB{1659}{bdd.west}{brd.east}
\hB{1659}{bde.west}{bre.east}\hB{1659}{bdf.west}{brf.east}\hB{1659}{bdg.west}{brg.east}\hB{1662}{bdh.west}{brh.east}\hB{1662}{bdi.west}{bri.east}
\vBb{143}{bra.north}{reg.south}\vBb{667}{brb.north}{reg.south}\vBb{1198}{brc.north}{reg.south}\vBb{1725}{brd.north}{reg.south}
\vBb{2262}{bre.north}{reg.south}\vBb{2782}{brf.north}{reg.south}\vBb{3323}{brg.north}{reg.south}\vBb{3875}{brh.north}{reg.south}\vBb{4395}{bri.north}{reg.south}
\vBb{438}{reg.south}{bda.north}\vBb{962}{reg.south}{bdb.north}\vBb{1493}{reg.south}{bdc.north}\vBb{2020}{reg.south}{bdd.north}
\vBb{2557}{reg.south}{bde.north}\vBb{3077}{reg.south}{bdf.north}\vBb{3618}{reg.south}{bdg.north}\vBb{4170}{reg.south}{bdh.north}\vBb{4586}{reg.south}{bdi.north}
\vBb{184}{bca.north}{bra.south}\vBb{707}{bcb.north}{brb.south}\vBb{1239}{bcc.north}{brc.south}\vBb{1765}{bcd.north}{brd.south}\vBb{2301}{bce.north}{bre.south}
\vBb{412}{bda.south}{bca.north}\vBb{936}{bdb.south}{bcb.north}\vBb{1467}{bdc.south}{bcc.north}\vBb{1994}{bdd.south}{bcd.north}\vBb{2530}{bde.south}{bce.north}
\end{tikzpicture}
\end{document}
